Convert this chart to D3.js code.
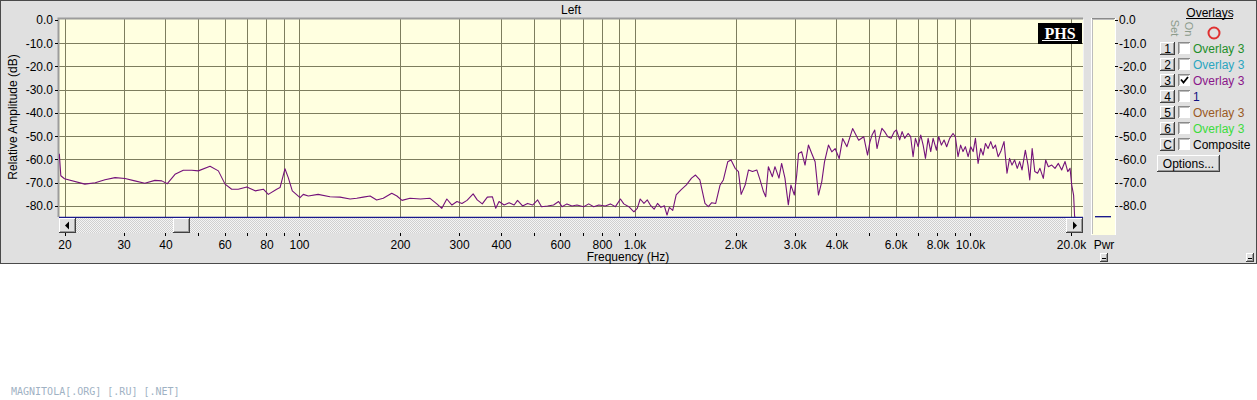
<!DOCTYPE html>
<html><head><meta charset="utf-8">
<script src="https://cdn.jsdelivr.net/npm/d3@7"></script>
<style>
html,body{margin:0;padding:0;background:#fff;}
svg{display:block;}
text{font-family:"Liberation Sans",Arial,sans-serif;}
</style></head>
<body>
<svg id="c" width="1257" height="400"></svg>
<script>
// ---------------- data ----------------
const freqHz = [
 19.3,19.5,20,23.0,24.7,26.4,28.3,30.3,32.4,34.7,37.2,39.0,40.5,42.7,45.2,47.9,50.1,54.3,57.5,60.2,
 63.0,65.9,69.9,74.0,78.3,81.0,85.8,87.8,90.8,92.9,95.5,100.7,103,106.6,114,123.7,
 132.5,142,148.6,155.4,162.9,170.4,178.3,189,195.8,202.8,214.3,230,245.8,257.5,266.5,275.8,285.6,295.7,
 306,316.8,330.4,339.8,351.8,364.2,377,385.8,394.7,408.6,423,437.8,448,463.8,480,497,514.4,528.4,550.6,
 573.8,594,607.8,629,650.9,673.8,705.5,730.2,755.8,782.4,818.6,847.4,877.2,908,929.2,961.9,995.7,1019,
 1040,1067,1092,1118,1144,1171,1199,1227,1250,1270,1300,1331,1378,1428,1479,1520,1566,1622,1660,1699,
 1746,1798,1840,1896,1940,1995,2041,2079,2137,2187,2248,2315,2367,2423,2461,2506,2576,2622,2695,2745,
 2808,2874,2926,2995,3044,3083,3150,3223,3299,3375,3454,3534,3616,3684,3785,3873,3963,4074,4172,4297,
 4468,4658,4822,4950,5030,5105,5200,5282,5365,5463,5564,5689,5818,5951,6036,6172,6275,6387,6537,6655,
 6766,6876,7004,7131,7250,7366,7502,7637,7763,7943,8068,8218,8370,8521,8697,8900,9043,9211,9377,9531,
 9686,9871,10050,10220,10380,10570,10760,10940,11120,11320,11530,11720,11910,12130,12350,12630,12890,
 13120,13340,13580,13830,14060,14290,14620,14890,15070,15320,15600,15900,16160,16540,16810,17120,17520,
 17920,18340,18760,19200,19560,19870,20100,20360,20500,20700
];
const levelDb = [
 -57.5,-67,-68.3,-70.6,-70,-68.7,-67.8,-68.2,-69.2,-70.2,-69.0,-69.2,-70.4,-66.4,-64.6,-64.6,-64.9,-62.9,-64.9,-70.6,
 -72.8,-72.8,-71.8,-73.5,-72.8,-75.0,-72.8,-72.1,-64.0,-67.8,-73.5,-76.4,-75,-75.7,-75,-76.0,
 -76.2,-77,-76.7,-76.2,-75.7,-77.4,-76.7,-74.5,-75.7,-77.6,-76.7,-77,-76.7,-79.1,-81,-77,-79.6,-78.1,
 -78.9,-77.6,-74.8,-77.4,-79.1,-76.2,-76,-81,-78.1,-79.6,-78.6,-79.6,-77.6,-80,-78.9,-79.6,-77.4,-80.3,-80,
 -79.6,-78.1,-80.3,-79.1,-80,-79.6,-80.3,-79.1,-80.3,-79.6,-80,-79.1,-80.3,-77,-79.1,-80.3,-82.5,-81,
 -77,-78.9,-77.4,-79.9,-81.4,-78.9,-80.6,-79.9,-83.9,-80.6,-81.9,-75.2,-73,-70.9,-68,-66.7,-68.8,-78.9,-80.3,-78.6,
 -78.9,-71.1,-68.8,-61,-60.2,-63.8,-65.2,-75,-71,-64.5,-65.2,-64.5,-68.8,-73.8,-76,-63.1,-67.4,-63.1,-68,-61.7,
 -68,-79.5,-71,-75.3,-66.7,-57.4,-56.7,-62.4,-53.8,-57.4,-61,-75.3,-69.5,-61,-53.8,-56.7,-55.3,-59.6,-51,-54.5,
 -46.7,-51.7,-50.2,-58.1,-52.5,-49.5,-47.3,-55.3,-50.9,-46.6,-48,-50.2,-50.9,-48,-47.3,-51.6,-48,-50.9,-48.8,-50.2,
 -58.8,-50.9,-54.5,-49.5,-53.8,-59.5,-50.9,-56.6,-50.9,-56,-50.2,-53.8,-51.6,-54.5,-50.9,-48.8,-50.2,-58.8,-53.8,-56.6,
 -54.5,-58.8,-54.5,-56.6,-50.9,-61.7,-55.3,-58.1,-53.1,-55.3,-52.3,-55.3,-53.8,-58.8,-56.6,-52.3,-65.9,
 -59.5,-62.4,-60.2,-63.8,-60.9,-64.5,-56,-62.4,-68.8,-55.3,-65.2,-65.9,-63.8,-68.1,-60.2,-63.1,-62.4,
 -63.8,-61.7,-64.5,-60.9,-65.2,-63.8,-71,-75.3,-84.4,-86
];
const gridFreqs = [20,30,40,50,60,70,80,90,100,200,300,400,500,600,700,800,900,1000,2000,3000,4000,5000,6000,7000,8000,9000,10000,20000];
const labeledFreqs = [20,30,40,60,80,100,200,300,400,600,800,1000,2000,3000,4000,6000,8000,10000,20000];
const freqLabels = ["20","30","40","60","80","100","200","300","400","600","800","1.0k","2.0k","3.0k","4.0k","6.0k","8.0k","10.0k","20.0k"];
const dbTicks = [0,-10,-20,-30,-40,-50,-60,-70,-80];
const overlaySets = ["1","2","3","4","5","6","C"];
const overlayNames = ["Overlay 3","Overlay 3","Overlay 3","1","Overlay 3","Overlay 3","Composite"];
const overlayColors = ["#1f8f2a","#2aa6c0","#8a168a","#101080","#9a5a24","#3ddc3d","#000000"];
const overlayChecked = [false,false,true,false,false,false,false];

// ---------------- layout ----------------
const svg = d3.select("#c");
const P = {l:59, r:1083, t:19, b:217};
const x = d3.scaleLog().domain([20,20000]).range([64.5,1071]);
const y = d3.scaleLinear().domain([-85,0]).range([217.6,20]);
const FACE="#e0e0e0";

const defs = svg.append("defs");
defs.append("clipPath").attr("id","plotclip").append("rect")
  .attr("x",P.l).attr("y",P.t).attr("width",P.r-P.l).attr("height",P.b-P.t+1);
const pat = defs.append("pattern").attr("id","hatch").attr("width",2).attr("height",2).attr("patternUnits","userSpaceOnUse");
pat.append("rect").attr("width",2).attr("height",2).attr("fill","#f4f4f4");
pat.append("rect").attr("width",1).attr("height",1).attr("fill","#cfcfcf");
pat.append("rect").attr("x",1).attr("y",1).attr("width",1).attr("height",1).attr("fill","#cfcfcf");

// window background
svg.append("rect").attr("x",0.5).attr("y",0.5).attr("width",1256).attr("height",263)
  .attr("fill",FACE).attr("stroke","#4a4a4a");

function raised(g,x0,y0,w,h){
  const b=g.append("g").attr("shape-rendering","crispEdges");
  b.append("rect").attr("x",x0).attr("y",y0).attr("width",w).attr("height",h).attr("fill",FACE);
  b.append("path").attr("d",`M${x0+0.5},${y0+h-1}V${y0+0.5}H${x0+w-1}`).attr("stroke","#ffffff").attr("fill","none");
  b.append("path").attr("d",`M${x0+1},${y0+h-1.5}H${x0+w-1.5}V${y0+1}`).attr("stroke","#9a9a9a").attr("fill","none");
  b.append("path").attr("d",`M${x0},${y0+h-0.5}H${x0+w-0.5}V${y0}`).attr("stroke","#404040").attr("fill","none");
  return b;
}
function sunken(g,x0,y0,w,h,fill){
  const b=g.append("g").attr("shape-rendering","crispEdges");
  b.append("rect").attr("x",x0).attr("y",y0).attr("width",w).attr("height",h).attr("fill",fill);
  b.append("path").attr("d",`M${x0+0.5},${y0+h}V${y0+0.5}H${x0+w}`).attr("stroke","#8a8a8a").attr("fill","none");
  b.append("path").attr("d",`M${x0+1.5},${y0+h-1}V${y0+1.5}H${x0+w-1}`).attr("stroke","#bdbdbd").attr("fill","none");
  return b;
}

// title
svg.append("text").attr("x",571).attr("y",14).attr("text-anchor","middle").attr("font-size",12).text("Left");

// plot background
svg.append("rect").attr("x",P.l).attr("y",P.t).attr("width",P.r-P.l).attr("height",P.b-P.t)
  .attr("fill","#ffffe0");

// grid via axes
const gx = svg.append("g").attr("transform",`translate(0,${P.b})`)
  .call(d3.axisBottom(x).tickValues(gridFreqs).tickSize(-(P.b-P.t)).tickFormat(""));
gx.select(".domain").remove();
gx.selectAll("line").attr("stroke","#7d7d5e").attr("shape-rendering","crispEdges");
const gy = svg.append("g").attr("transform",`translate(${P.l},0)`)
  .call(d3.axisLeft(y).tickValues(dbTicks.slice(1)).tickSize(-(P.r-P.l)).tickFormat(""));
gy.select(".domain").remove();
gy.selectAll("line").attr("stroke","#7d7d5e").attr("shape-rendering","crispEdges");

// plot border bevel
svg.append("path").attr("d",`M${P.l-0.5},${P.b}V${P.t-0.5}H${P.r}`).attr("stroke","#9c9c9c").attr("stroke-width",2).attr("fill","none");
svg.append("path").attr("d",`M${P.r+0.5},${P.t}V${P.b}`).attr("stroke","#f2f2f2").attr("fill","none");

// curve
const pts = freqHz.map((f,i)=>[f,Math.max(-85.5,levelDb[i])]);
svg.append("path").datum(pts).attr("clip-path","url(#plotclip)")
  .attr("d",d3.line().x(d=>x(d[0])).y(d=>y(d[1])))
  .attr("fill","none").attr("stroke","#74127a").attr("stroke-width",1.1).attr("stroke-linejoin","round");

// bottom blue baseline
svg.append("line").attr("x1",P.l).attr("x2",P.r).attr("y1",P.b+0.5).attr("y2",P.b+0.5)
  .attr("stroke","#1a1a8c").attr("stroke-width",1.4);

// PHS logo
svg.append("rect").attr("x",1038).attr("y",23).attr("width",44).attr("height",21).attr("fill","#000");
svg.append("text").attr("x",1060).attr("y",39).attr("text-anchor","middle")
  .attr("font-family","'Liberation Serif','DejaVu Serif',serif").attr("font-weight","bold").attr("font-size",16)
  .attr("fill","#fff").style("font-family","'Liberation Serif',serif").text("PHS");
svg.append("line").attr("x1",1042).attr("x2",1078).attr("y1",40.5).attr("y2",40.5).attr("stroke","#fff");

// scrollbar
svg.append("rect").attr("x",P.l).attr("y",218).attr("width",P.r-P.l).attr("height",15).attr("fill","url(#hatch)");
raised(svg,59,218,17,15);
svg.append("path").attr("d","M65,225.5L69,221.5V229.5Z").attr("fill","#000");
raised(svg,173,218,17,15);
raised(svg,1066,218,17,15);
svg.append("path").attr("d","M1077,225.5L1073,221.5V229.5Z").attr("fill","#000");

// y axis labels
const ay = svg.append("g").attr("transform",`translate(${P.l-1},0)`)
  .call(d3.axisLeft(y).tickValues(dbTicks).tickSize(3).tickPadding(2).tickFormat(d=>d.toFixed(1)));
ay.select(".domain").remove();
ay.selectAll("line").attr("stroke","#000").attr("shape-rendering","crispEdges");
ay.selectAll("text").attr("font-size",12).attr("font-family","'Liberation Sans',Arial,sans-serif").attr("fill","#000");
svg.append("text").attr("transform","translate(17,117) rotate(-90)").attr("text-anchor","middle")
  .attr("font-size",12).text("Relative Amplitude (dB)");

// x axis labels
const ax = svg.append("g").attr("transform","translate(0,233)")
  .call(d3.axisBottom(x).tickValues(gridFreqs).tickSize(3).tickPadding(4)
    .tickFormat(d=>{const i=labeledFreqs.indexOf(d);return i<0?"":freqLabels[i];}));
ax.select(".domain").remove();
ax.selectAll("line").attr("stroke","#000").attr("shape-rendering","crispEdges");
ax.selectAll("text").attr("font-size",12).attr("font-family","'Liberation Sans',Arial,sans-serif").attr("fill","#000");
svg.append("text").attr("x",628).attr("y",261).attr("text-anchor","middle").attr("font-size",12).text("Frequency (Hz)");

// Pwr meter
sunken(svg,1091,18,24,217,"#ffffe0");
svg.append("rect").attr("x",1091).attr("y",18).attr("width",24).attr("height",217).attr("fill","none")
  .attr("stroke","#ffffff").attr("stroke-width",1).attr("shape-rendering","crispEdges").attr("stroke-dasharray","0,24,217,0");
svg.append("line").attr("x1",1095).attr("x2",1111).attr("y1",y(-84.6)).attr("y2",y(-84.6))
  .attr("stroke","#1a1a8c").attr("stroke-width",1.4);
const ap = svg.append("g").attr("transform","translate(1115,0)")
  .call(d3.axisRight(y).tickValues(dbTicks).tickSize(3).tickPadding(1).tickFormat(d=>d.toFixed(1)));
ap.select(".domain").remove();
ap.selectAll("line").attr("stroke","#000").attr("shape-rendering","crispEdges");
ap.selectAll("text").attr("font-size",12).attr("font-family","'Liberation Sans',Arial,sans-serif").attr("fill","#000");
svg.append("text").attr("x",1104).attr("y",249).attr("text-anchor","middle").attr("font-size",12).text("Pwr");
raised(svg,1100,253,8,9);
svg.append("line").attr("x1",1102).attr("x2",1106).attr("y1",258.5).attr("y2",258.5).attr("stroke","#000");
raised(svg,1246,253,8,9);
svg.append("line").attr("x1",1248).attr("x2",1252).attr("y1",258.5).attr("y2",258.5).attr("stroke","#000");

// Overlays panel
svg.append("text").attr("x",1210).attr("y",17).attr("text-anchor","middle").attr("font-size",12).text("Overlays");
svg.append("line").attr("x1",1186).attr("x2",1233).attr("y1",18.5).attr("y2",18.5).attr("stroke","#000");
svg.append("text").attr("transform","translate(1171,28) rotate(90)").attr("text-anchor","middle")
  .attr("font-size",11).attr("fill","#8a9a8a").text("Set");
svg.append("text").attr("transform","translate(1185,29) rotate(90)").attr("text-anchor","middle")
  .attr("font-size",11).attr("fill","#8a9a8a").text("On");
svg.append("circle").attr("cx",1214).attr("cy",33).attr("r",5.5).attr("fill","none").attr("stroke","#e03030").attr("stroke-width",2);

overlaySets.forEach((s,i)=>{
  const cy = 48 + i*16;
  raised(svg,1160,cy-6,15,13);
  svg.append("text").attr("x",1167.5).attr("y",cy+4.5).attr("text-anchor","middle").attr("font-size",12).text(s);
  sunken(svg,1178,cy-6,12,12,"#ffffff");
  if(overlayChecked[i]){
    svg.append("path").attr("d",`M${1181},${cy-0.5}L${1183.5},${cy+2.5}L${1188},${cy-3}`)
      .attr("fill","none").attr("stroke","#000").attr("stroke-width",1.8);
  }
  svg.append("text").attr("x",1193).attr("y",cy+4.5).attr("font-size",12)
    .attr("fill",overlayColors[i]).text(overlayNames[i]);
});
raised(svg,1157,155,63,17);
svg.append("text").attr("x",1188.5).attr("y",168).attr("text-anchor","middle").attr("font-size",12).text("Options...");

// footer text
svg.append("text").attr("x",11).attr("y",395).attr("font-size",10)
  .attr("font-family","'DejaVu Sans Mono',monospace").style("font-family","'DejaVu Sans Mono',monospace")
  .attr("fill","#9fb2c4").text("MAGNITOLA[.ORG] [.RU] [.NET]");
</script>
</body></html>
